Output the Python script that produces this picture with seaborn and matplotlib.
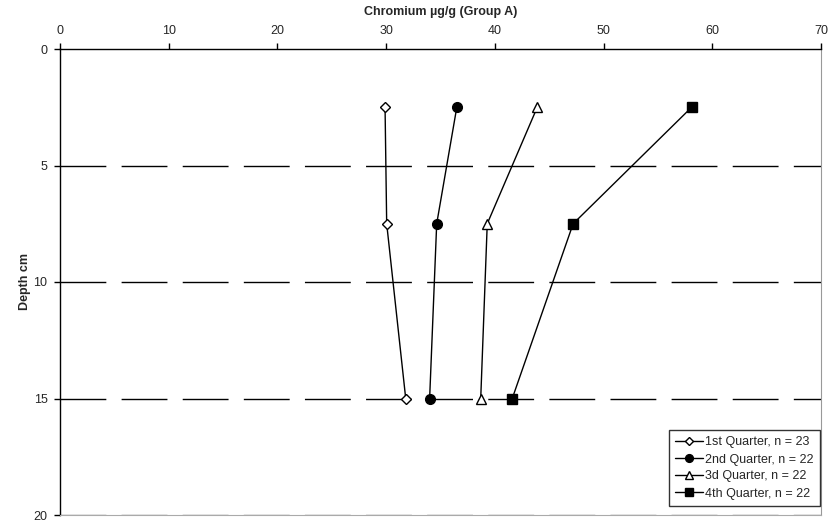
import pandas as pd
import matplotlib
matplotlib.use('Agg')
import matplotlib.pyplot as plt
import seaborn as sns

# data
depth = [2.5, 7.5, 15]
q1 = [29.9, 30.05, 31.8]
q2 = [36.5, 34.65, 34.0]
q3 = [43.9, 39.3, 38.7]
q4 = [58.1, 47.2, 41.6]
labels = ['1st Quarter, n = 23', '2nd Quarter, n = 22',
          '3d Quarter, n = 22', '4th Quarter, n = 22']

sns.set_style('white')
plt.rcParams['font.family'] = ['Liberation Sans', 'DejaVu Sans']

fig = plt.figure(figsize=(8.38, 5.23), dpi=100)
ax = fig.add_axes([60/838, 1 - 515/523, (821-60)/838, (515-49)/523])

# dashed gridlines
for d in [5, 10, 15, 20]:
    ax.axhline(d, color='black' if d < 20 else '#777777', lw=1,
               dashes=(33, 11), zorder=1)

markers = ['D', 'o', '^', 's']
faces = ['white', 'black', 'white', 'black']
sizes = [5.5, 7, 7, 7]
for vals, lab, m, fc, ms in zip([q1, q2, q3, q4], labels, markers, faces, sizes):
    df = pd.DataFrame({'conc': vals, 'depth': depth})
    sns.lineplot(data=df, x='conc', y='depth', sort=False, ax=ax, color='black',
                 lw=1, marker=m, markerfacecolor=fc, markeredgecolor='black',
                 markersize=ms, markeredgewidth=1, label=lab, zorder=3)

ax.set_xlim(0, 70)
ax.set_ylim(20, 0)
ax.set_xticks(range(0, 71, 10))
ax.set_yticks(range(0, 21, 5))
ax.xaxis.tick_top()
ax.xaxis.set_label_position('top')
ax.tick_params(axis='both', labelsize=9, length=4, width=1, color='black',
               direction='out', pad=5)
ax.tick_params(axis='x', top=True, bottom=False)
ax.tick_params(axis='y', left=True)
ax.set_xlabel('Chromium µg/g (Group A)', fontsize=9, fontweight='bold', labelpad=7)
ax.set_ylabel('Depth cm', fontsize=9, fontweight='bold', labelpad=2)

for s in ['top', 'left']:
    ax.spines[s].set_color('black')
    ax.spines[s].set_linewidth(1)
ax.spines['right'].set_color('#999999')
ax.spines['bottom'].set_color('#aaaaaa')

leg = ax.legend(loc='upper right', bbox_to_anchor=(826/838, 1 - 424/523),
                bbox_transform=fig.transFigure, fontsize=9, frameon=True,
                fancybox=False, edgecolor='black', handlelength=2.2,
                handletextpad=0.2, borderpad=0.5, labelspacing=0.4,
                markerscale=0.8)
leg.get_frame().set_linewidth(1)

plt.savefig('out.png', dpi=100)
